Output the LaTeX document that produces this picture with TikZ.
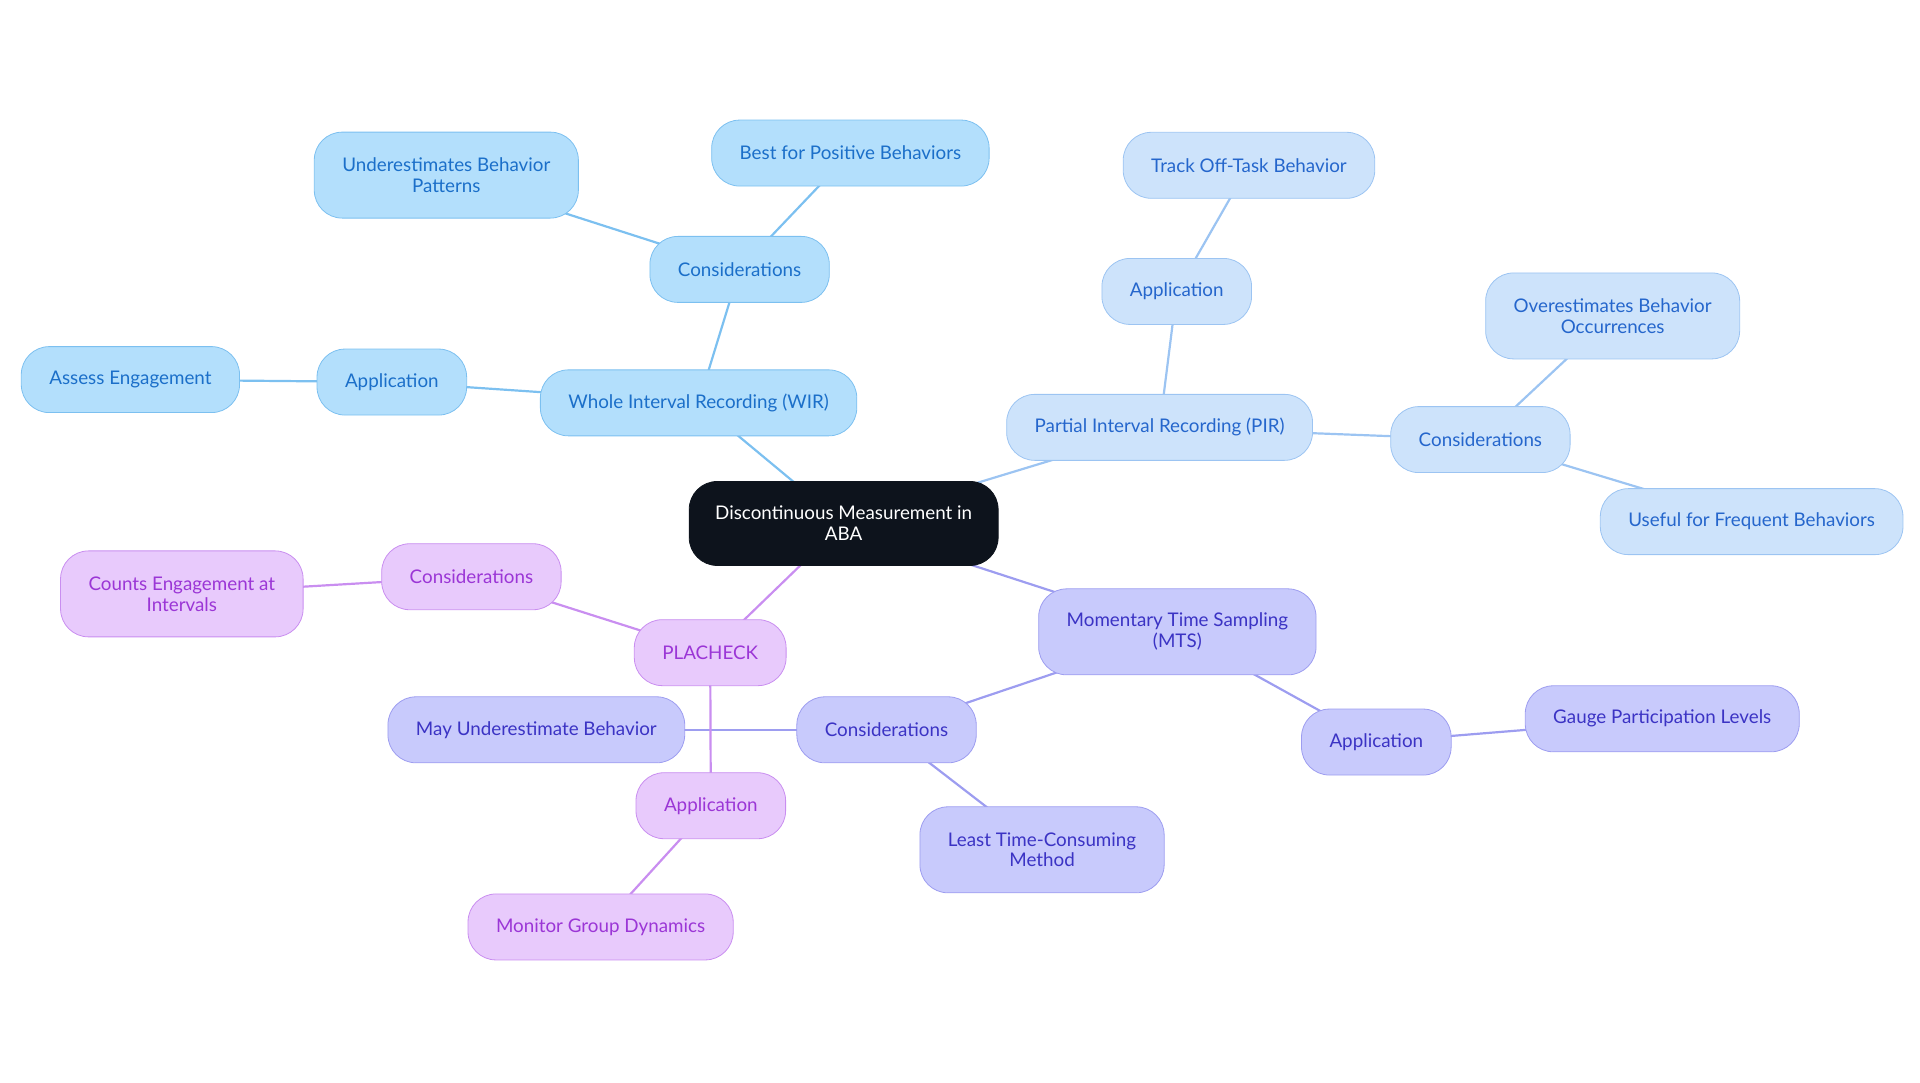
\documentclass[tikz,border=0pt]{standalone}
\usepackage{fontspec}
\setmainfont{Lato}
\usepackage{tikz}
\usetikzlibrary{backgrounds}

\definecolor{rootfill}{HTML}{0D131C}
\definecolor{wirfill}{HTML}{B3DFFC}
\definecolor{wirline}{HTML}{7CC0F0}
\definecolor{wirtext}{HTML}{1B6FC9}
\definecolor{pirfill}{HTML}{CDE3FB}
\definecolor{pirline}{HTML}{9CC4F2}
\definecolor{pirtext}{HTML}{2566CC}
\definecolor{mtsfill}{HTML}{C8CAFC}
\definecolor{mtsline}{HTML}{9D9DF0}
\definecolor{mtstext}{HTML}{3B33C4}
\definecolor{plafill}{HTML}{E8CAFC}
\definecolor{plaline}{HTML}{C98EF0}
\definecolor{platext}{HTML}{9B36D6}

\begin{document}
\begin{tikzpicture}
  [x=0.6123pt,y=-0.6123pt,
   every node/.style={rounded corners=14pt,minimum height=33pt,inner xsep=14pt,
     align=center,font=\fontsize{9.4}{10.4}\selectfont},
   root/.style={fill=rootfill,draw=rootfill,text=white,minimum height=42pt,inner xsep=13pt},
   wir/.style={fill=wirfill,draw=wirline,text=wirtext},
   pir/.style={fill=pirfill,draw=pirline,text=pirtext},
   mts/.style={fill=mtsfill,draw=mtsline,text=mtstext},
   pla/.style={fill=plafill,draw=plaline,text=platext},
   tall/.style={minimum height=43pt},
   link/.style={line width=1.1pt}]
  \useasboundingbox (0,0) rectangle (1568,884.4);

  \node[root] (root) at (689,427.5) {Discontinuous Measurement in\\ABA};

  \node[wir] (wir)       at (570.5,329) {Whole Interval Recording (WIR)};
  \node[wir] (wirCons)   at (604,220)   {Considerations};
  \node[wir,tall] (wirUnder) at (364.5,143) {Underestimates Behavior\\Patterns};
  \node[wir] (wirBest)   at (694.5,125) {Best for Positive Behaviors};
  \node[wir] (wirApp)    at (320,312)   {Application};
  \node[wir] (wirAssess) at (106.5,310) {Assess Engagement};

  \node[pir] (pir)       at (947,349)    {Partial Interval Recording (PIR)};
  \node[pir] (pirApp)    at (961,238)    {Application};
  \node[pir] (pirTrack)  at (1020,135)   {Track Off-Task Behavior};
  \node[pir] (pirCons)   at (1209,359)   {Considerations};
  \node[pir,tall] (pirOver) at (1317,258) {Overestimates Behavior\\Occurrences};
  \node[pir] (pirUseful) at (1430.5,426) {Useful for Frequent Behaviors};

  \node[mts,tall] (mts)  at (961.5,516)  {Momentary Time Sampling\\(MTS)};
  \node[mts] (mtsCons)   at (724,596)    {Considerations};
  \node[mts] (mtsMay)    at (438,596)    {May Underestimate Behavior};
  \node[mts,tall] (mtsLeast) at (851,694) {Least Time-Consuming\\Method};
  \node[mts] (mtsApp)    at (1124,606)   {Application};
  \node[mts] (mtsGauge)  at (1357.5,587) {Gauge Participation Levels};

  \node[pla] (pla)        at (580,533)   {PLACHECK};
  \node[pla] (plaCons)    at (385,471)   {Considerations};
  \node[pla,tall] (plaCounts) at (148.5,485) {Counts Engagement at\\Intervals};
  \node[pla] (plaApp)     at (580.5,658) {Application};
  \node[pla] (plaMonitor) at (490.5,757) {Monitor Group Dynamics};

  \begin{scope}[on background layer]
    \foreach \from/\to in {root/wir,wir/wirCons,wirCons/wirUnder,wirCons/wirBest,wir/wirApp,wirApp/wirAssess}
      \draw[link,wirline] (\from.center) -- (\to.center);
    \foreach \from/\to in {root/pir,pir/pirApp,pirApp/pirTrack,pir/pirCons,pirCons/pirOver,pirCons/pirUseful}
      \draw[link,pirline] (\from.center) -- (\to.center);
    \foreach \from/\to in {root/mts,mts/mtsCons,mtsCons/mtsMay,mtsCons/mtsLeast,mts/mtsApp,mtsApp/mtsGauge}
      \draw[link,mtsline] (\from.center) -- (\to.center);
    \foreach \from/\to in {root/pla,pla/plaCons,plaCons/plaCounts,pla/plaApp,plaApp/plaMonitor}
      \draw[link,plaline] (\from.center) -- (\to.center);
  \end{scope}
\end{tikzpicture}
\end{document}
